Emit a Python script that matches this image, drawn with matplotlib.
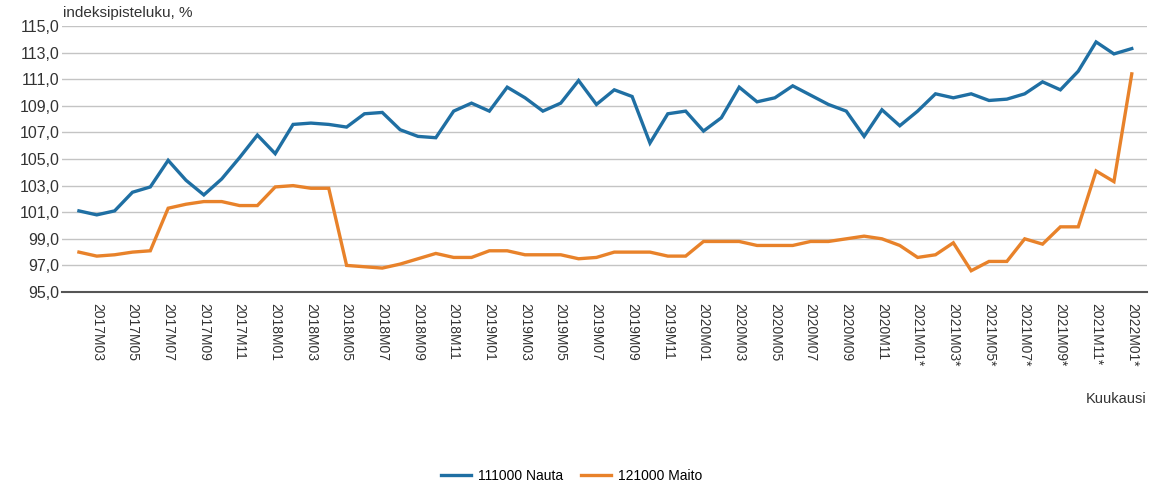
import matplotlib
matplotlib.use("Agg")
import matplotlib.pyplot as plt
from matplotlib.ticker import FuncFormatter

plt.rcParams['font.family'] = ['Liberation Sans', 'DejaVu Sans']

# months 2017M02 .. 2022M01, preliminary (*) from 2021 onwards
months = []
for yr in range(2017, 2023):
    for m in range(1, 13):
        if (yr == 2017 and m < 2) or (yr == 2022 and m > 1):
            continue
        lab = "%dM%02d" % (yr, m)
        if yr >= 2021:
            lab += "*"
        months.append(lab)

nauta = [101.1, 100.8, 101.1, 102.5, 102.9, 104.9, 103.4, 102.3, 103.5, 105.1, 106.8,
         105.4, 107.6, 107.7, 107.6, 107.4, 108.4, 108.5, 107.2, 106.7, 106.6, 108.6, 109.2,
         108.6, 110.4, 109.6, 108.6, 109.2, 110.9, 109.1, 110.2, 109.7, 106.2, 108.4, 108.6,
         107.1, 108.1, 110.4, 109.3, 109.6, 110.5, 109.8, 109.1, 108.6, 106.7, 108.7, 107.5,
         108.6, 109.9, 109.6, 109.9, 109.4, 109.5, 109.9, 110.8, 110.2, 111.6, 113.8, 112.9,
         113.3]
maito = [98.0, 97.7, 97.8, 98.0, 98.1, 101.3, 101.6, 101.8, 101.8, 101.5, 101.5,
         102.9, 103.0, 102.8, 102.8, 97.0, 96.9, 96.8, 97.1, 97.5, 97.9, 97.6, 97.6,
         98.1, 98.1, 97.8, 97.8, 97.8, 97.5, 97.6, 98.0, 98.0, 98.0, 97.7, 97.7,
         98.8, 98.8, 98.8, 98.5, 98.5, 98.5, 98.8, 98.8, 99.0, 99.2, 99.0, 98.5,
         97.6, 97.8, 98.7, 96.6, 97.3, 97.3, 99.0, 98.6, 99.9, 99.9, 104.1, 103.3,
         111.4]
series_names = ["111000 Nauta", "121000 Maito"]
colors = ["#1f6fa3", "#e8822a"]
yticks = [95, 97, 99, 101, 103, 105, 107, 109, 111, 113, 115]

fig = plt.figure(figsize=(11.65, 4.83), dpi=100)
ax = fig.add_axes([0.0532, 0.3954, 0.9313, 0.5508])

x = list(range(len(months)))
l1, = ax.plot(x, nauta, color=colors[0], lw=2.4, solid_joinstyle='miter')
l2, = ax.plot(x, maito, color=colors[1], lw=2.4, solid_joinstyle='miter')

ax.set_ylim(95, 115)
ax.set_yticks(yticks)
ax.yaxis.set_major_formatter(FuncFormatter(lambda v, p: ("%.1f" % v).replace(".", ",")))
ax.set_xlim(-0.95, len(months) - 1 + 0.85)
ax.set_xticks(x[1::2])
ax.set_xticklabels(months[1::2], rotation=-90, fontsize=10, color="#333333")

ax.grid(axis='y', color="#c4c4c4", lw=1)
ax.set_axisbelow(True)
for s in ['left', 'right', 'top']:
    ax.spines[s].set_visible(False)
ax.spines['bottom'].set_color("#555555")
ax.spines['bottom'].set_linewidth(1.5)
ax.tick_params(axis='both', length=0)
ax.tick_params(axis='y', labelsize=11.5, labelcolor="#333333", pad=2)
ax.tick_params(axis='x', pad=8)

fig.text(0.054, 0.958, "indeksipisteluku, %", fontsize=11, color="#333333", va='bottom')
fig.text(0.984, 0.165, "Kuukausi", fontsize=10.5, color="#333333", ha='right')

fig.legend([l1, l2], series_names, loc='lower center', bbox_to_anchor=(0.491, -0.026),
           ncol=2, frameon=False, fontsize=10, handlelength=2.1, handletextpad=0.55,
           columnspacing=1.3)

fig.savefig("out.png", dpi=100)
